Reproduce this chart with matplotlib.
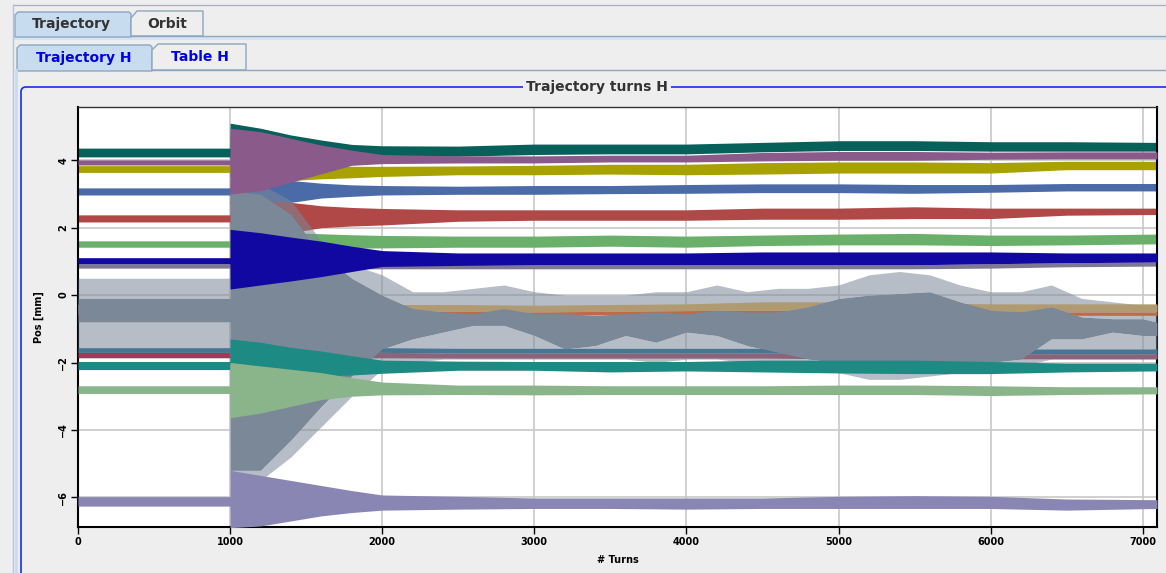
import numpy as np
import matplotlib.pyplot as plt
from matplotlib.patches import Polygon, FancyBboxPatch, Rectangle

# sample turns for the trajectory envelopes
band_t = [0, 999, 1000, 1200, 1400, 1600, 1800, 2000, 2500, 3000, 3500, 4000, 4500, 5000, 5500, 6000, 6500, 7094]

teal_top_hi = [4.36, 4.36, 5.10, 4.95, 4.75, 4.60, 4.47, 4.43, 4.42, 4.48, 4.48, 4.48, 4.53, 4.58, 4.58, 4.55, 4.55, 4.53]
teal_top_lo = [4.10, 4.10, 3.50, 3.60, 3.80, 4.00, 4.08, 4.12, 4.12, 4.17, 4.19, 4.19, 4.25, 4.29, 4.29, 4.27, 4.27, 4.27]
purple_hi = [4.01, 4.01, 4.95, 4.85, 4.65, 4.45, 4.30, 4.17, 4.13, 4.13, 4.15, 4.15, 4.23, 4.26, 4.26, 4.24, 4.25, 4.25]
purple_lo = [3.86, 3.86, 3.00, 3.10, 3.35, 3.60, 3.85, 3.90, 3.92, 3.92, 3.95, 3.95, 3.98, 4.00, 4.00, 4.03, 4.04, 4.04]
olive_hi = [3.84, 3.84, 3.90, 3.90, 3.85, 3.85, 3.82, 3.82, 3.83, 3.85, 3.88, 3.88, 3.93, 3.95, 3.95, 3.93, 3.97, 3.97]
olive_lo = [3.64, 3.64, 3.50, 3.50, 3.40, 3.45, 3.48, 3.52, 3.57, 3.57, 3.59, 3.57, 3.59, 3.62, 3.62, 3.62, 3.72, 3.72]
blue_hi = [3.18, 3.18, 3.45, 3.45, 3.40, 3.32, 3.27, 3.25, 3.23, 3.25, 3.25, 3.28, 3.30, 3.30, 3.28, 3.28, 3.31, 3.31]
blue_lo = [2.97, 2.97, 2.70, 2.70, 2.75, 2.88, 2.93, 2.97, 2.99, 2.99, 3.01, 3.02, 3.04, 3.04, 3.02, 3.05, 3.09, 3.09]
red_hi = [2.38, 2.38, 2.80, 2.80, 2.75, 2.65, 2.60, 2.57, 2.53, 2.53, 2.53, 2.53, 2.58, 2.58, 2.62, 2.58, 2.58, 2.58]
red_lo = [2.17, 2.17, 1.80, 1.80, 1.85, 2.00, 2.05, 2.08, 2.19, 2.22, 2.22, 2.22, 2.25, 2.25, 2.27, 2.27, 2.37, 2.39]
green_hi = [1.61, 1.61, 1.85, 1.85, 1.85, 1.82, 1.79, 1.77, 1.75, 1.75, 1.78, 1.75, 1.78, 1.81, 1.83, 1.78, 1.78, 1.81]
green_lo = [1.42, 1.42, 1.30, 1.30, 1.32, 1.36, 1.39, 1.40, 1.42, 1.42, 1.45, 1.42, 1.47, 1.49, 1.49, 1.47, 1.49, 1.52]
dkblue_hi = [1.11, 1.11, 1.95, 1.85, 1.72, 1.60, 1.45, 1.32, 1.25, 1.25, 1.25, 1.25, 1.28, 1.28, 1.28, 1.28, 1.25, 1.25]
dkblue_lo = [0.93, 0.93, 0.18, 0.30, 0.42, 0.55, 0.70, 0.85, 0.88, 0.90, 0.90, 0.90, 0.90, 0.90, 0.90, 0.93, 0.96, 0.98]
mauve_hi = [0.93, 0.93, 0.93, 0.93, 0.93, 0.93, 0.92, 0.90, 0.90, 0.90, 0.90, 0.90, 0.90, 0.90, 0.90, 0.93, 0.96, 0.98]
mauve_lo = [0.80, 0.80, 0.80, 0.80, 0.80, 0.80, 0.78, 0.78, 0.78, 0.78, 0.78, 0.78, 0.78, 0.78, 0.78, 0.80, 0.84, 0.86]
tan_hi = [-0.28, -0.28, -0.28, -0.28, -0.28, -0.28, -0.28, -0.28, -0.28, -0.30, -0.28, -0.26, -0.20, -0.20, -0.23, -0.26, -0.26, -0.26]
tan_lo = [-0.48, -0.48, -0.48, -0.48, -0.48, -0.48, -0.48, -0.48, -0.48, -0.50, -0.48, -0.46, -0.45, -0.45, -0.46, -0.48, -0.50, -0.50]
orange_hi = [-0.48, -0.48, -0.48, -0.48, -0.48, -0.48, -0.48, -0.48, -0.48, -0.50, -0.48, -0.46, -0.45, -0.45, -0.46, -0.48, -0.50, -0.50]
orange_lo = [-0.58, -0.58, -0.58, -0.58, -0.58, -0.58, -0.58, -0.58, -0.58, -0.60, -0.58, -0.56, -0.55, -0.55, -0.56, -0.58, -0.60, -0.60]
cyan_hi = [-1.56, -1.56, -1.56, -1.56, -1.56, -1.56, -1.56, -1.56, -1.58, -1.58, -1.58, -1.58, -1.58, -1.60, -1.60, -1.60, -1.60, -1.60]
cyan_lo = [-1.70, -1.70, -1.70, -1.70, -1.70, -1.70, -1.70, -1.70, -1.72, -1.72, -1.72, -1.72, -1.72, -1.74, -1.74, -1.74, -1.74, -1.74]
crimson_hi = [-1.70, -1.70, -1.70, -1.70, -1.70, -1.70, -1.70, -1.70, -1.72, -1.72, -1.72, -1.72, -1.72, -1.74, -1.74, -1.74, -1.74, -1.74]
crimson_lo = [-1.86, -1.86, -1.86, -1.86, -1.86, -1.86, -1.86, -1.86, -1.87, -1.87, -1.87, -1.87, -1.87, -1.89, -1.89, -1.89, -1.89, -1.89]
teal2_hi = [-1.97, -1.97, -1.30, -1.40, -1.55, -1.66, -1.80, -1.93, -1.96, -1.97, -1.97, -1.97, -1.93, -1.93, -1.93, -1.97, -2.02, -2.02]
teal2_lo = [-2.21, -2.21, -2.05, -2.15, -2.30, -2.40, -2.37, -2.32, -2.23, -2.23, -2.28, -2.25, -2.28, -2.31, -2.33, -2.33, -2.28, -2.25]
ltgreen_hi = [-2.69, -2.69, -2.00, -2.10, -2.20, -2.30, -2.45, -2.58, -2.67, -2.67, -2.69, -2.69, -2.69, -2.67, -2.67, -2.69, -2.72, -2.72]
ltgreen_lo = [-2.92, -2.92, -3.64, -3.50, -3.30, -3.10, -3.00, -2.96, -2.95, -2.96, -2.95, -2.95, -2.95, -2.95, -2.95, -2.98, -2.95, -2.93]
lav_hi = [-5.98, -5.98, -5.20, -5.35, -5.50, -5.65, -5.80, -5.93, -5.97, -6.02, -6.02, -6.02, -6.02, -5.97, -5.95, -5.97, -6.05, -6.07]
lav_lo = [-6.26, -6.26, -6.90, -6.85, -6.70, -6.55, -6.45, -6.38, -6.35, -6.33, -6.33, -6.35, -6.33, -6.33, -6.33, -6.33, -6.38, -6.33]

# the noisy gray trace: spike envelope (top/bot) and dense core (hi/lo)
gray_t = [0, 999, 1000, 1200, 1400, 1600, 1800, 2000, 2200, 2400, 2600, 2800, 3000, 3200, 3400, 3600, 3800,
          4000, 4200, 4400, 4600, 4800, 5000, 5200, 5400, 5600, 5800, 6000, 6200, 6400, 6600, 6800, 7000, 7094]
gray_top = [0.5, 0.5, 3.3, 3.3, 2.8, 1.6, 0.9, 0.6, 0.1, 0.1, 0.2, 0.3, 0.1, 0.0, 0.0, 0.0, 0.1,
            0.1, 0.3, 0.1, 0.2, 0.2, 0.3, 0.6, 0.7, 0.6, 0.3, 0.1, 0.1, 0.3, -0.1, -0.2, -0.3, -0.3]
gray_hi = [-0.1, -0.1, 3.1, 3.0, 2.4, 1.2, 0.5, 0.0, -0.4, -0.5, -0.55, -0.4, -0.55, -0.55, -0.6, -0.55, -0.5,
           -0.55, -0.45, -0.5, -0.5, -0.35, -0.1, 0.0, 0.05, 0.1, -0.2, -0.45, -0.5, -0.35, -0.65, -0.7, -0.7, -0.8]
gray_lo = [-0.8, -0.8, -5.2, -5.2, -4.3, -3.3, -2.4, -1.6, -1.3, -1.1, -0.9, -0.9, -1.2, -1.6, -1.5, -1.2, -1.4,
           -1.1, -1.2, -1.5, -1.7, -1.9, -2.0, -2.0, -2.0, -2.0, -2.0, -2.0, -1.9, -1.3, -1.3, -1.1, -1.2, -1.2]
gray_bot = [-1.7, -1.7, -5.5, -5.5, -4.8, -3.9, -3.0, -2.2, -2.0, -1.9, -1.9, -1.9, -1.9, -1.9, -1.9, -1.9, -2.0,
            -1.9, -1.9, -2.0, -2.0, -2.1, -2.3, -2.5, -2.5, -2.4, -2.3, -2.2, -2.1, -1.9, -1.9, -1.9, -1.9, -1.9]

x_ticks = [0, 1000, 2000, 3000, 4000, 5000, 6000, 7000]
y_ticks = [-6, -4, -2, 0, 2, 4]

fig = plt.figure(figsize=(11.66, 5.73), dpi=100, facecolor='#EEEEEE')

# window chrome (pixel coordinates)
bg = fig.add_axes([0, 0, 1, 1], zorder=-1)
bg.set_xlim(0, 1166)
bg.set_ylim(573, 0)
bg.axis('off')
edge = '#8FA5C0'
bg.plot([13, 1166], [5, 5], color='#A8B2C2', lw=1)
bg.plot([13, 13], [5, 573], color='#B8C4D4', lw=1)
bg.add_patch(Rectangle((13, 36), 1153, 4, facecolor='#D6E3F2', edgecolor='none'))
bg.plot([131, 1166], [36, 36], color=edge, lw=1)
bg.add_patch(Polygon([(15, 37), (15, 15), (18, 12), (129, 12), (131, 14), (131, 37)],
                     facecolor='#C8DCF0', edgecolor=edge, lw=1))
bg.add_patch(Polygon([(131, 36), (131, 18), (137, 11), (203, 11), (203, 36)],
                     facecolor='#EEEEEE', edgecolor=edge, lw=1))
bg.text(71, 24, 'Trajectory', ha='center', va='center', fontsize=10, fontweight='bold', color='#333333')
bg.text(167, 24, 'Orbit', ha='center', va='center', fontsize=10, fontweight='bold', color='#333333')
bg.plot([152, 1166], [70, 70], color=edge, lw=1)
bg.add_patch(Polygon([(17, 71), (17, 48), (20, 45), (150, 45), (152, 47), (152, 71)],
                     facecolor='#C8DCF0', edgecolor=edge, lw=1))
bg.add_patch(Polygon([(152, 70), (152, 50), (158, 44), (246, 44), (246, 70)],
                     facecolor='#EEEEEE', edgecolor=edge, lw=1))
bg.text(84, 58, 'Trajectory H', ha='center', va='center', fontsize=10, fontweight='bold', color='#0000E6')
bg.text(200, 57, 'Table H', ha='center', va='center', fontsize=10, fontweight='bold', color='#0000E6')
bg.plot([16, 16], [70, 573], color='#C8DCF0', lw=2)
bg.add_patch(FancyBboxPatch((21, 87), 1160, 500, boxstyle='round,pad=0,rounding_size=5',
                            facecolor='none', edgecolor='#1A2AF0', lw=1.2))
bg.text(597, 87, 'Trajectory turns H', ha='center', va='center', fontsize=10, fontweight='bold',
        color='#333333', bbox=dict(facecolor='#EEEEEE', edgecolor='none', pad=2))

# plot area
ax = fig.add_axes([78 / 1166, 1 - 527 / 573, (1157 - 78) / 1166, (527 - 107) / 573])
ax.set_facecolor('white')


def band(t, hi, lo, color, z, alpha=1.0):
    ax.fill_between(t, lo, hi, color=color, lw=0, zorder=z, alpha=alpha)


band(band_t, teal_top_hi, teal_top_lo, '#07605A', 2.0)
band(band_t, olive_hi, olive_lo, '#A8A200', 2.1)
band(band_t, blue_hi, blue_lo, '#4A6AA8', 2.2)
band(band_t, red_hi, red_lo, '#B04848', 2.3)
band(band_t, green_hi, green_lo, '#6AB06A', 2.4)
band(band_t, mauve_hi, mauve_lo, '#7E7890', 2.5)
band(band_t, cyan_hi, cyan_lo, '#0A6090', 2.6)
band(band_t, crimson_hi, crimson_lo, '#A03A58', 2.7)

# gray: sparse spikes first, then the flat traces seen through them, then the dense core
band(gray_t, gray_top, gray_hi, '#7A8898', 3.0, alpha=0.55)
band(gray_t, gray_lo, gray_bot, '#7A8898', 3.0, alpha=0.55)
band(band_t, orange_hi, orange_lo, '#C06A4A', 3.05)
band(band_t, tan_hi, tan_lo, '#B09A72', 3.06)
band(gray_t, gray_hi, gray_lo, '#7A8898', 3.1)

band(band_t, purple_hi, purple_lo, '#8A5A8A', 4.0)
band(band_t, dkblue_hi, dkblue_lo, '#1008A0', 4.0)
band(band_t, teal2_hi, teal2_lo, '#1E8A84', 4.0)
band(band_t, ltgreen_hi, ltgreen_lo, '#8AB48A', 4.1)
band(band_t, lav_hi, lav_lo, '#8A86B4', 4.1)

ax.set_xlim(0, 7094)
ax.set_ylim(-6.88, 5.58)
ax.set_xticks(x_ticks)
ax.set_yticks(y_ticks)
ax.set_axisbelow(True)
ax.grid(True, color='#C8C8C8', lw=1.2)
ax.tick_params(length=5, width=1, labelsize=7, pad=2)
ax.tick_params(axis='y', labelrotation=90)
for lab in ax.get_xticklabels() + ax.get_yticklabels():
    lab.set_fontweight('bold')
for lab in ax.get_yticklabels():
    lab.set_va('center')
ax.set_xlabel('# Turns', fontsize=7, fontweight='bold', labelpad=6)
ax.set_ylabel('Pos [mm]', fontsize=7, fontweight='bold', labelpad=10)
for s in ['left', 'bottom', 'right']:
    ax.spines[s].set_linewidth(1.5)
    ax.spines[s].set_color('black')
ax.spines['top'].set_linewidth(1)
ax.spines['top'].set_color('#333333')

fig.savefig('out.png', dpi=100, facecolor=fig.get_facecolor())
